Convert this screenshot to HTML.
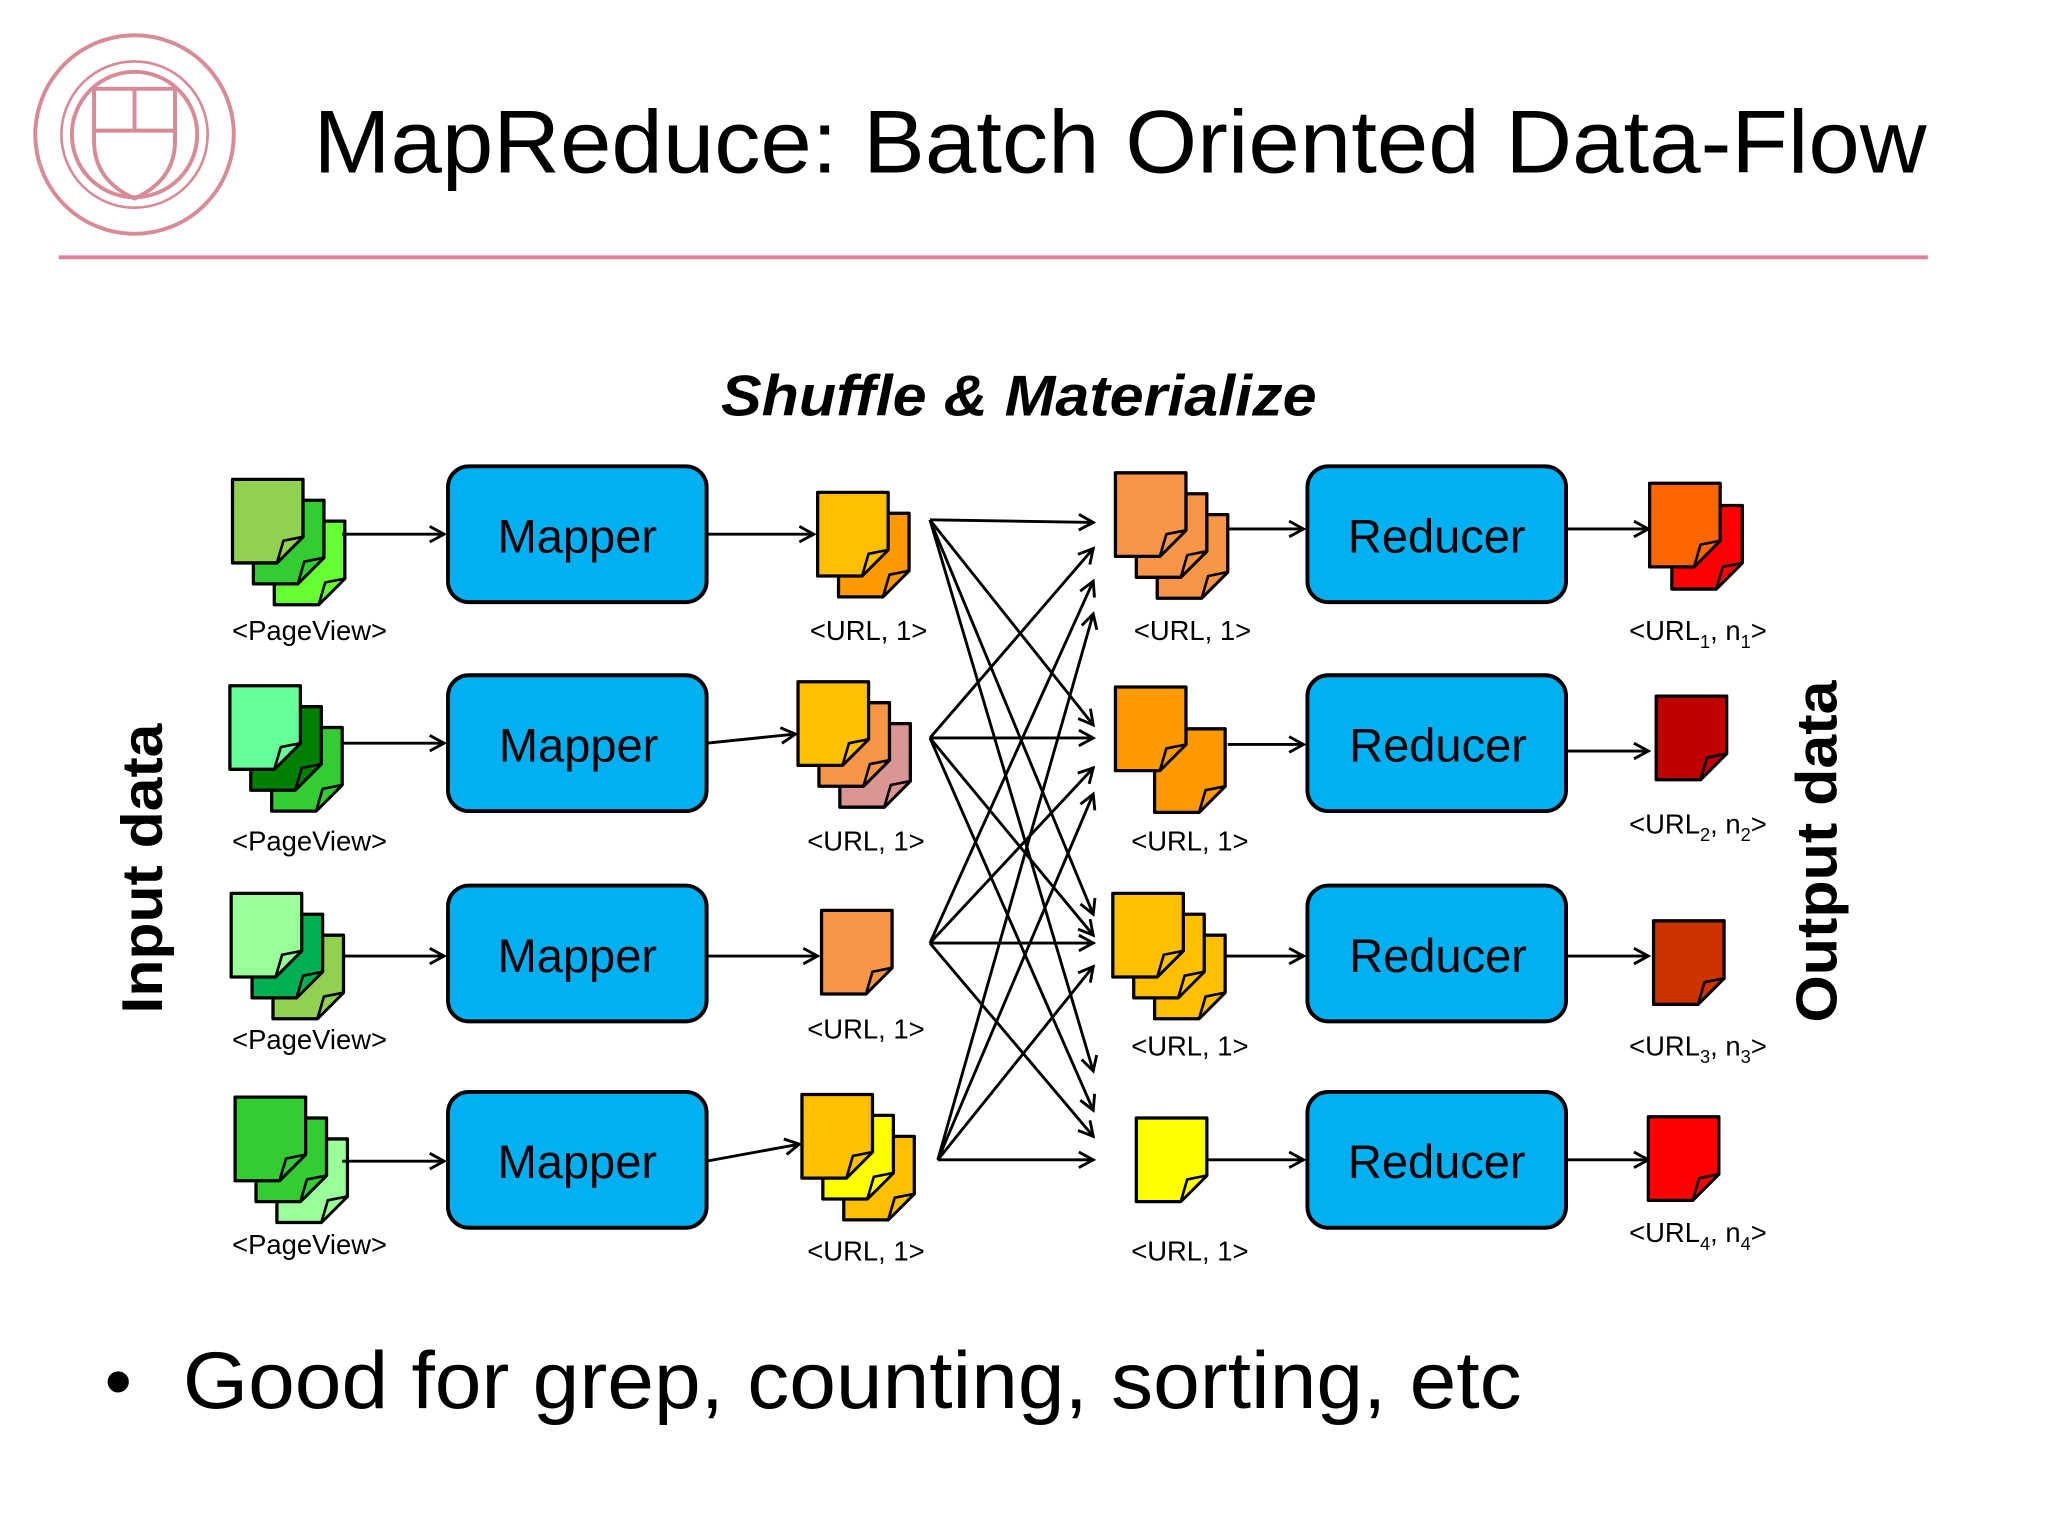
<!DOCTYPE html>
<html><head><meta charset="utf-8"><style>
html,body{margin:0;padding:0;background:#fff;}
svg{display:block;}
text{font-family:"Liberation Sans",sans-serif;}
</style></head><body>
<svg id="s" width="2048" height="1536" viewBox="0 0 1568 1176" preserveAspectRatio="none" xmlns="http://www.w3.org/2000/svg">
<defs>
<marker id="ah" markerWidth="14" markerHeight="14" refX="12" refY="7" orient="auto" markerUnits="userSpaceOnUse">
<path d="M1,1 L12,7 L1,13" fill="none" stroke="#000" stroke-width="2.2"/>
</marker>
</defs>
<rect width="1568" height="1176" fill="#fff"/>
<g fill="none" stroke="#d88a96" stroke-width="3">
<circle cx="103" cy="103" r="76"/>
<circle cx="103" cy="103" r="56" stroke-width="2"/>
<circle cx="103" cy="103" r="48"/>
<path d="M72,68 h62 v40 q0,30 -31,44 q-31,-14 -31,-44 z"/>
<line x1="103" y1="68" x2="103" y2="100"/><line x1="72" y1="100" x2="134" y2="100"/>
</g>
<text x="240" y="132" font-size="68" textLength="1235" lengthAdjust="spacingAndGlyphs">MapReduce: Batch Oriented Data-Flow</text>
<line x1="45" y1="197" x2="1476" y2="197" stroke="#e07f96" stroke-width="3"/>
<text x="552" y="318" font-size="44" font-weight="bold" font-style="italic" textLength="456" lengthAdjust="spacingAndGlyphs">Shuffle &amp; Materialize</text>
<text transform="translate(124,665) rotate(-90)" font-size="44" font-weight="bold" text-anchor="middle" textLength="222" lengthAdjust="spacingAndGlyphs">Input data</text>
<text transform="translate(1406,652) rotate(-90)" font-size="44" font-weight="bold" text-anchor="middle" textLength="262" lengthAdjust="spacingAndGlyphs">Output data</text>
<g id="g"></g>
<g font-size="36" text-anchor="middle">
<text x="442" y="423">Mapper</text><text x="443" y="583">Mapper</text><text x="442" y="744">Mapper</text><text x="442" y="902">Mapper</text>
<text x="1100" y="423">Reducer</text><text x="1101" y="583">Reducer</text><text x="1101" y="744">Reducer</text><text x="1100" y="902">Reducer</text>
</g>
<g font-size="21" text-anchor="middle">
<text x="237" y="490">&lt;PageView&gt;</text><text x="237" y="651">&lt;PageView&gt;</text><text x="237" y="803">&lt;PageView&gt;</text><text x="237" y="960">&lt;PageView&gt;</text>
<text x="665" y="490">&lt;URL, 1&gt;</text><text x="663" y="651">&lt;URL, 1&gt;</text><text x="663" y="795">&lt;URL, 1&gt;</text><text x="663" y="965">&lt;URL, 1&gt;</text>
<text x="913" y="490">&lt;URL, 1&gt;</text><text x="911" y="651">&lt;URL, 1&gt;</text><text x="911" y="808">&lt;URL, 1&gt;</text><text x="911" y="965">&lt;URL, 1&gt;</text>
<text x="1300" y="490">&lt;URL<tspan font-size="14" dy="6">1</tspan><tspan dy="-6">, n</tspan><tspan font-size="14" dy="6">1</tspan><tspan dy="-6">&gt;</tspan></text>
<text x="1300" y="638">&lt;URL<tspan font-size="14" dy="6">2</tspan><tspan dy="-6">, n</tspan><tspan font-size="14" dy="6">2</tspan><tspan dy="-6">&gt;</tspan></text>
<text x="1300" y="808">&lt;URL<tspan font-size="14" dy="6">3</tspan><tspan dy="-6">, n</tspan><tspan font-size="14" dy="6">3</tspan><tspan dy="-6">&gt;</tspan></text>
<text x="1300" y="951">&lt;URL<tspan font-size="14" dy="6">4</tspan><tspan dy="-6">, n</tspan><tspan font-size="14" dy="6">4</tspan><tspan dy="-6">&gt;</tspan></text>
</g>
<text x="80" y="1078" font-size="60">•</text>
<text x="140" y="1078" font-size="62" textLength="1025" lengthAdjust="spacingAndGlyphs">Good for grep, counting, sorting, etc</text>
</svg>
<script>
var NS="http://www.w3.org/2000/svg",g=document.getElementById("g");
function el(t,a){var e=document.createElementNS(NS,t);for(var k in a)e.setAttribute(k,a[k]);g.appendChild(e);return e;}
function page(x,y,c,w,h){w=w||54;h=h||64;var f=20;
el("path",{d:"M"+x+","+y+" h"+w+" v"+(h-f)+" l"+(-f)+","+f+" h"+(-(w-f))+" z",fill:c,stroke:"#000","stroke-width":2.5,"stroke-linejoin":"round"});
el("path",{d:"M"+(x+w-f)+","+(y+h)+" L"+(x+w-f+5)+","+(y+h-f+3)+" L"+(x+w)+","+(y+h-f)+" Z",fill:c,stroke:"#000","stroke-width":2,"stroke-linejoin":"round"});}
function stack(x,y,cs,dx,dy){for(var i=cs.length-1;i>=0;i--)page(x+i*(dx||16),y+i*(dy||16),cs[i]);}
function box(x,y){el("rect",{x:x,y:y,width:198,height:104,rx:16,fill:"#00b0f0",stroke:"#000","stroke-width":3});}
function arr(x1,y1,x2,y2){el("line",{x1:x1,y1:y1,x2:x2,y2:y2,stroke:"#000","stroke-width":2.2,"marker-end":"url(#ah)"});}
stack(178,367,["#92d050","#33cc33","#66ff33"]);
stack(176,525,["#66ff99","#008000","#33cc33"]);
stack(177,684,["#99ff99","#00b050","#92d050"]);
stack(180,840,["#33cc33","#33cc33","#99ff99"]);
var ry=[357,517,678,836],my=[409,569,732,889];
var mt=[[623,409],[609,562],[626,732],[612,876]];
for(var i=0;i<4;i++){box(343,ry[i]);box(1001,ry[i]);arr(262,my[i],340,my[i]);arr(541,my[i],mt[i][0],mt[i][1]);}
stack(626,377,["#ffc000","#ff9900"]);
stack(611,522,["#ffc000","#f79646","#d99694"]);
page(629,697,"#f79646");
stack(614,838,["#ffc000","#ffff00","#ffc000"]);
var dy=[[400,420,445,470],[555,565,588,608],[700,716,722,740],[820,850,870,888]];
var src=[[712,398],[712,565],[712,722],[718,888]];
for(var s=0;s<4;s++)for(var d=0;d<4;d++){arr(src[s][0],src[s][1],837,dy[d][s]);}
stack(854,362,["#f79646","#f79646","#f79646"]);
page(884,558,"#ff9900");page(854,526,"#ff9900");
stack(852,684,["#ffc000","#ffc000","#ffc000"]);
page(870,856,"#ffff00");
var ey=[405,570,732,888],ex=[940,940,938,925];
for(var i=0;i<4;i++){arr(ex[i],ey[i],998,ey[i]);arr(1199,i==1?575:ey[i],1262,i==1?575:ey[i]);}
page(1280,387,"#ff0000");page(1263,370,"#ff6600");
page(1268,533,"#c00000");
page(1266,705,"#cc3300");
page(1262,855,"#ff0000");
</script>
</body></html>
